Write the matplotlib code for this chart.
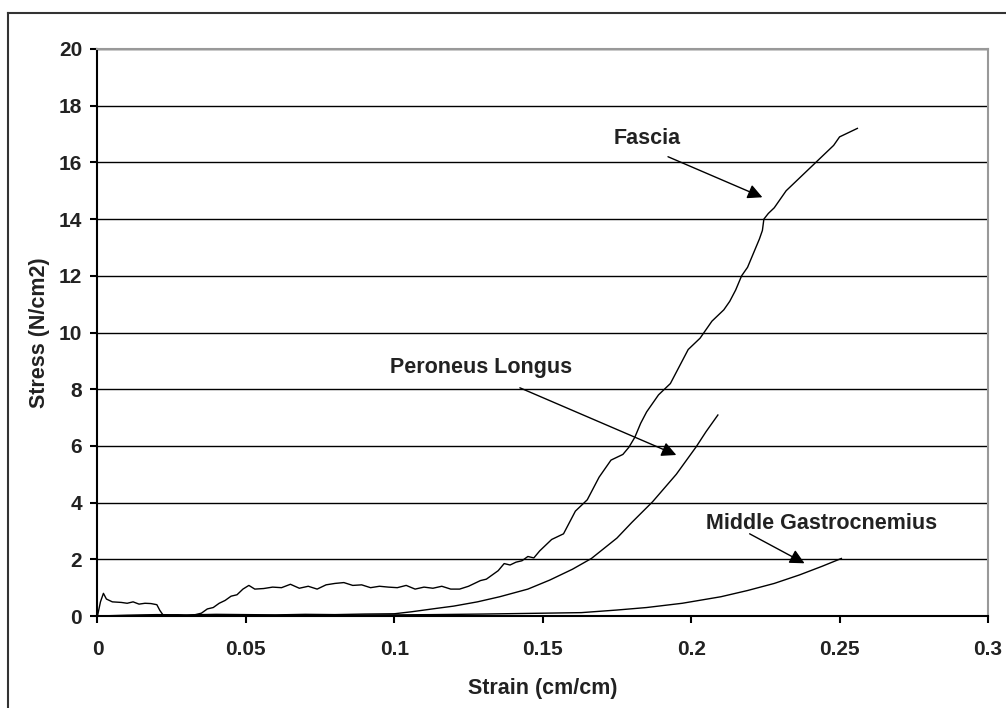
import numpy as np
import matplotlib.pyplot as plt
from matplotlib.lines import Line2D

# %%
# data
fascia_strain = [0, 0.001, 0.002, 0.003, 0.005, 0.008, 0.010, 0.012, 0.014, 0.016, 0.018, 0.020,
                 0.021, 0.022, 0.024, 0.027, 0.030, 0.033, 0.035, 0.037, 0.039, 0.041, 0.043, 0.045,
                 0.047, 0.049, 0.051, 0.053, 0.056, 0.059, 0.062, 0.065, 0.068, 0.071, 0.074, 0.077,
                 0.080, 0.083, 0.086, 0.089, 0.092, 0.095, 0.098, 0.101, 0.104, 0.107, 0.110, 0.113,
                 0.116, 0.119, 0.122, 0.125, 0.127, 0.129, 0.131, 0.133, 0.135, 0.137, 0.139, 0.141,
                 0.143, 0.145, 0.147, 0.149, 0.151, 0.153, 0.155, 0.157, 0.159, 0.161, 0.163, 0.165,
                 0.167, 0.169, 0.171, 0.173, 0.175, 0.177, 0.179, 0.181, 0.183, 0.185, 0.187, 0.189,
                 0.191, 0.193, 0.195, 0.197, 0.199, 0.201, 0.203, 0.205, 0.207, 0.209, 0.211, 0.213,
                 0.215, 0.217, 0.219, 0.221, 0.223, 0.224, 0.2245, 0.226, 0.228, 0.230, 0.232, 0.234,
                 0.236, 0.238, 0.240, 0.242, 0.244, 0.246, 0.248, 0.250, 0.252, 0.254, 0.256]
fascia_stress = [0, 0.5, 0.8, 0.6, 0.5, 0.48, 0.45, 0.5, 0.42, 0.45, 0.44, 0.4,
                 0.2, 0.05, 0.02, 0.04, 0.0, 0.05, 0.1, 0.25, 0.3, 0.45, 0.55, 0.7,
                 0.75, 0.95, 1.08, 0.95, 0.97, 1.02, 1.0, 1.12, 0.98, 1.05, 0.95, 1.1,
                 1.15, 1.18, 1.08, 1.1, 1.0, 1.05, 1.02, 1.0, 1.08, 0.95, 1.02, 0.98,
                 1.05, 0.95, 0.95, 1.05, 1.15, 1.25, 1.3, 1.45, 1.6, 1.85, 1.8, 1.9,
                 1.95, 2.1, 2.05, 2.3, 2.5, 2.7, 2.8, 2.9, 3.3, 3.7, 3.9, 4.1,
                 4.5, 4.9, 5.2, 5.5, 5.6, 5.7, 5.95, 6.3, 6.8, 7.2, 7.5, 7.8,
                 8.0, 8.2, 8.6, 9.0, 9.4, 9.6, 9.8, 10.1, 10.4, 10.6, 10.8, 11.1,
                 11.5, 12.0, 12.3, 12.8, 13.3, 13.6, 14.0, 14.2, 14.4, 14.7, 15.0, 15.2,
                 15.4, 15.6, 15.8, 16.0, 16.2, 16.4, 16.6, 16.9, 17.0, 17.1, 17.2]

peroneus_strain = [0, 0.01, 0.02, 0.03, 0.04, 0.05, 0.06, 0.07, 0.08, 0.09, 0.10, 0.1058,
                   0.1142, 0.12, 0.128, 0.1355, 0.145, 0.1524, 0.16, 0.1664, 0.175, 0.18,
                   0.187, 0.195, 0.2017, 0.205, 0.209]
peroneus_stress = [0, 0.03, 0.05, 0.04, 0.06, 0.05, 0.04, 0.06, 0.05, 0.07, 0.08, 0.15,
                   0.27, 0.35, 0.5, 0.68, 0.95, 1.27, 1.65, 2.03, 2.75, 3.3,
                   4.03, 5.0, 5.97, 6.5, 7.09]

gastroc_strain = [0, 0.02, 0.05, 0.08, 0.1, 0.113, 0.13, 0.15, 0.163, 0.1748, 0.185, 0.197,
                  0.21, 0.219, 0.228, 0.2365, 0.244, 0.2506]
gastroc_stress = [0, 0.02, 0.02, 0.03, 0.04, 0.05, 0.07, 0.1, 0.12, 0.21, 0.3, 0.45,
                  0.68, 0.9, 1.15, 1.45, 1.75, 2.03]

# annotations: label, arrow tail, arrow tip, text centre (data coords)
labels = ["Fascia", "Peroneus Longus", "Middle Gastrocnemius"]
label_xy = [(0.1922, 16.2), (0.1423, 8.05), (0.2197, 2.9)]
arrow_xy = [(0.2240, 14.77), (0.195, 5.68), (0.2382, 1.86)]
text_xy = [(0.1852, 16.86), (0.1293, 8.78), (0.2441, 3.28)]

xticks = [0, 0.05, 0.1, 0.15, 0.2, 0.25, 0.3]
xticklabels = ["0", "0.05", "0.1", "0.15", "0.2", "0.25", "0.3"]
yticks = np.arange(0, 21, 2)

# %%
plt.rcParams['font.family'] = ['Liberation Sans', 'DejaVu Sans']

fig = plt.figure(figsize=(10.06, 7.08), dpi=100)
ax = fig.add_axes([0.0969, 0.1299, 0.8852, 0.8009])

# outer chart frame (only top and left edges are visible in the crop)
fig.add_artist(Line2D([7.5/1006, 7.5/1006], [0, 1 - 13/708], color="#333333", lw=1.5))
fig.add_artist(Line2D([7.5/1006, 1], [1 - 13/708, 1 - 13/708], color="#333333", lw=1.5))

# curves
ax.plot(fascia_strain, fascia_stress, color="black", lw=1)
ax.plot(peroneus_strain, peroneus_stress, color="black", lw=1)
ax.plot(gastroc_strain, gastroc_stress, color="black", lw=1)

# labels with arrows
for lab, tail, tip, txt in zip(labels, label_xy, arrow_xy, text_xy):
    ax.annotate("", xy=tip, xytext=tail,
                arrowprops=dict(arrowstyle="-|>", color="black", lw=1, mutation_scale=22,
                                shrinkA=0, shrinkB=0))
    ax.text(txt[0], txt[1], lab, fontsize=15.5, fontweight="bold", color="#222222",
            ha="center", va="center")

# axes formatting
ax.set_xlim(0, 0.3)
ax.set_ylim(0, 20)
ax.set_xticks(xticks, labels=xticklabels)
ax.set_yticks(yticks)
ax.yaxis.grid(True, color="black", lw=1)
ax.tick_params(direction="out", length=5, width=1.5, labelsize=15)
ax.tick_params(axis="x", pad=12)
ax.tick_params(axis="y", pad=6)
for label in ax.get_xticklabels() + ax.get_yticklabels():
    label.set_fontweight("bold")
    label.set_color("#222222")

ax.spines["left"].set_linewidth(1.5)
ax.spines["bottom"].set_linewidth(1.5)
ax.spines["top"].set_color("#999999")
ax.spines["right"].set_color("#999999")
ax.spines["top"].set_linewidth(1.5)
ax.spines["right"].set_linewidth(1.5)

ax.set_xlabel("Strain (cm/cm)", fontsize=15.5, fontweight="bold", color="#222222", labelpad=14)
ax.set_ylabel("Stress (N/cm2)", fontsize=15.5, fontweight="bold", color="#222222", labelpad=6)

plt.savefig("out.png", dpi=100)
plt.close()
